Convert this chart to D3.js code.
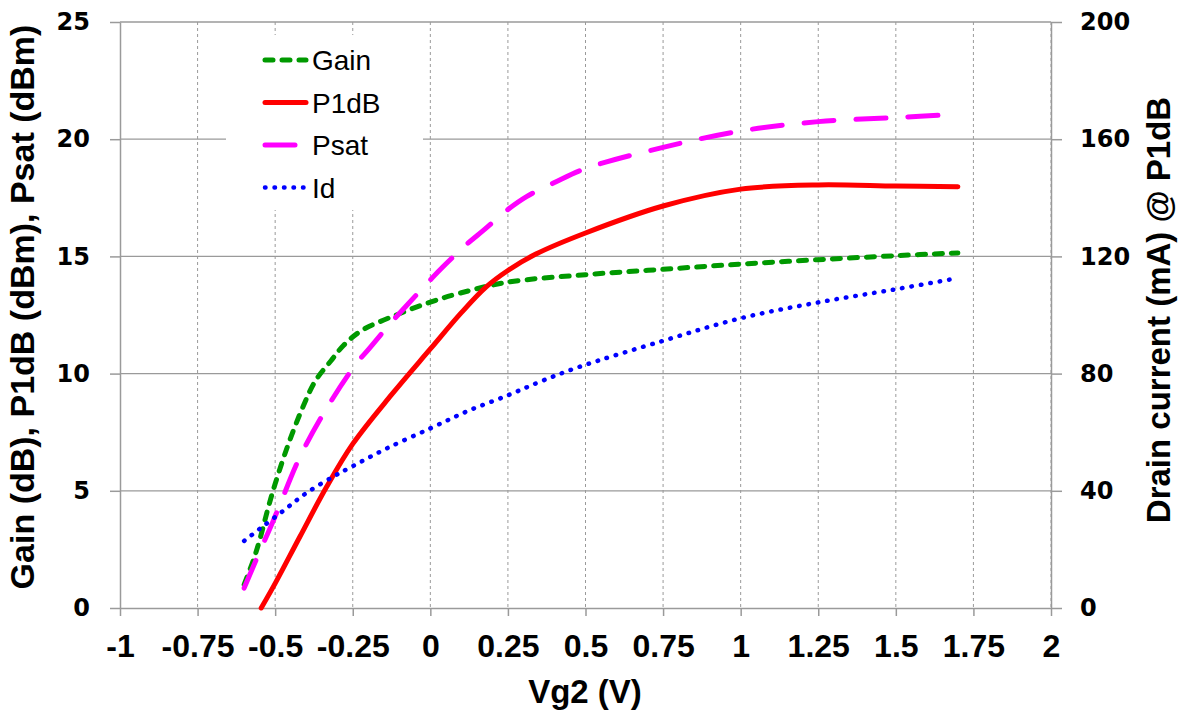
<!DOCTYPE html>
<html lang="en">
<head>
  <meta charset="UTF-8" />
  <title>Vg2 sweep</title>
  <script src="https://d3js.org/d3.v7.min.js"></script>
  <style>
    body { margin: 0; background: #fff; }
  </style>
</head>
<body>
  <svg id="chart" width="1184" height="711"></svg>

  <script>
    // Values
    const xTicks = [-1, -0.75, -0.5, -0.25, 0, 0.25, 0.5, 0.75, 1, 1.25, 1.5, 1.75, 2];
    const yTicks = [0, 5, 10, 15, 20, 25];
    const y2Ticks = [0, 40, 80, 120, 160, 200];

    const gainVg = [-0.6, -0.57, -0.55, -0.52, -0.5, -0.46, -0.41, -0.37, -0.32, -0.28, -0.22, -0.11, 0, 0.1, 0.25, 0.5, 0.75, 1.0, 1.25, 1.5, 1.7];
    const gainDb = [1.0, 2.05, 2.9, 4.4, 5.3, 6.9, 8.6, 9.7, 10.55, 11.2, 11.85, 12.5, 13.05, 13.45, 13.9, 14.22, 14.45, 14.67, 14.86, 15.03, 15.15];

    const p1dbVg = [-0.545, -0.5, -0.42, -0.335, -0.25, -0.125, 0, 0.1, 0.18, 0.25, 0.34, 0.5, 0.75, 1.0, 1.25, 1.5, 1.7];
    const p1dbDbm = [0, 1.05, 3.05, 5.15, 7.0, 9.1, 11.05, 12.6, 13.7, 14.4, 15.1, 16.0, 17.15, 17.87, 18.05, 18.0, 17.97];

    const psatVg = [-0.6, -0.555, -0.51, -0.485, -0.42, -0.335, -0.24, -0.195, -0.125, -0.08, 0, 0.04, 0.12, 0.17, 0.25, 0.31, 0.4, 0.5, 0.75, 1.0, 1.25, 1.5, 1.7];
    const psatDbm = [0.85, 2.25, 3.6, 4.4, 6.45, 8.5, 10.4, 11.1, 12.2, 12.85, 14.0, 14.55, 15.55, 16.1, 17.0, 17.55, 18.15, 18.75, 19.65, 20.35, 20.75, 20.92, 21.07];

    const idVg = [-0.6, -0.55, -0.47, -0.4, -0.31, -0.25, -0.14, 0, 0.12, 0.25, 0.36, 0.48, 0.75, 1.0, 1.25, 1.5, 1.7];
    const idMa = [22.9, 27.0, 33.5, 39.2, 45.0, 48.4, 54.5, 61.3, 67.2, 72.6, 77.5, 82.3, 91.2, 98.9, 104.3, 108.8, 112.6];

    const svg = d3.select("#chart");
    const margin = { top: 22, right: 133, bottom: 103, left: 120 };
    const width = +svg.attr("width");
    const height = +svg.attr("height");

    const x = d3.scaleLinear().domain([-1, 2]).range([margin.left, width - margin.right]);
    const y = d3.scaleLinear().domain([0, 25]).range([height - margin.bottom, margin.top]);
    const y2 = d3.scaleLinear().domain([0, 200]).range([height - margin.bottom, margin.top]);

    const gridColor = "#9a9a9a";

    // Vertical dashed grid
    svg.append("g")
      .selectAll("line")
      .data(xTicks.slice(1))
      .join("line")
      .attr("x1", d => x(d)).attr("x2", d => x(d))
      .attr("y1", y(25)).attr("y2", y(0))
      .attr("stroke", gridColor)
      .attr("stroke-width", 1)
      .attr("stroke-dasharray", "3,3");

    // Horizontal solid grid
    svg.append("g")
      .selectAll("line")
      .data(yTicks.slice(1))
      .join("line")
      .attr("x1", x(-1)).attr("x2", x(2))
      .attr("y1", d => y(d)).attr("y2", d => y(d))
      .attr("stroke", gridColor)
      .attr("stroke-width", 1.3);

    // Axes (plain hyphen for negatives, like the original)
    const xAxis = svg.append("g")
      .attr("transform", `translate(0, ${y(0)})`)
      .call(d3.axisBottom(x).tickValues(xTicks).tickSize(8).tickSizeOuter(0).tickPadding(18)
        .tickFormat(d => String(d)));
    xAxis.selectAll("text")
      .attr("font-family", "'Liberation Sans', Arial, sans-serif")
      .attr("font-weight", "bold")
      .attr("font-size", "32px")
      .attr("fill", "#000");

    const yAxis = svg.append("g")
      .attr("transform", `translate(${x(-1)}, 0)`)
      .call(d3.axisLeft(y).tickValues(yTicks).tickSize(10).tickSizeOuter(0).tickPadding(20));
    yAxis.selectAll("text")
      .attr("font-family", "'DejaVu Sans', sans-serif")
      .attr("font-weight", "bold")
      .attr("font-size", "24px")
      .attr("fill", "#000");

    const y2Axis = svg.append("g")
      .attr("transform", `translate(${x(2)}, 0)`)
      .call(d3.axisRight(y2).tickValues(y2Ticks).tickSize(11).tickSizeOuter(0).tickPadding(18));
    y2Axis.selectAll("text")
      .attr("font-family", "'DejaVu Sans', sans-serif")
      .attr("font-weight", "bold")
      .attr("font-size", "24px")
      .attr("fill", "#000");

    svg.selectAll(".domain, .tick line")
      .attr("stroke", gridColor)
      .attr("stroke-width", 1.5);

    // Axis titles
    svg.append("text")
      .attr("x", x(0.5) - 0.5)
      .attr("y", 703)
      .attr("text-anchor", "middle")
      .attr("font-family", "'Liberation Sans', Arial, sans-serif")
      .attr("font-weight", "bold")
      .attr("font-size", "33px")
      .text("Vg2 (V)");

    svg.append("text")
      .attr("transform", "translate(34, 307) rotate(-90)")
      .attr("text-anchor", "middle")
      .attr("font-family", "'Liberation Sans', Arial, sans-serif")
      .attr("font-weight", "bold")
      .attr("font-size", "34px")
      .text("Gain (dB), P1dB (dBm), Psat (dBm)");

    svg.append("text")
      .attr("transform", "translate(1170, 310) rotate(-90)")
      .attr("text-anchor", "middle")
      .attr("font-family", "'Liberation Sans', Arial, sans-serif")
      .attr("font-weight", "bold")
      .attr("font-size", "33px")
      .text("Drain current (mA) @ P1dB");

    // Series
    const series = [
      { name: "Gain", xs: gainVg, ys: gainDb, scale: y, color: "#009900", dash: "8,9", width: 5 },
      { name: "P1dB", xs: p1dbVg, ys: p1dbDbm, scale: y, color: "#ff0000", dash: null, width: 5 },
      { name: "Psat", xs: psatVg, ys: psatDbm, scale: y, color: "#ff00ff", dash: "30,22", width: 5 },
      { name: "Id", xs: idVg, ys: idMa, scale: y2, color: "#0000ff", dash: "0.5,9", width: 4.5 }
    ];

    // Legend background hides the grid behind it
    svg.append("rect")
      .attr("x", 226).attr("y", 35)
      .attr("width", 197).attr("height", 175)
      .attr("fill", "#fff");

    series.forEach(s => {
      const line = d3.line()
        .x(d => x(d[0]))
        .y(d => s.scale(d[1]))
        .curve(d3.curveCatmullRom.alpha(0.5));
      svg.append("path")
        .datum(d3.zip(s.xs, s.ys))
        .attr("fill", "none")
        .attr("stroke", s.color)
        .attr("stroke-width", s.width)
        .attr("stroke-linecap", "round")
        .attr("stroke-dasharray", s.dash)
        .attr("d", line);
    });

    // Legend
    const legend = svg.append("g");
    series.forEach((s, i) => {
      const ly = 60 + i * 42.5;
      legend.append("line")
        .attr("x1", 265).attr("x2", 306)
        .attr("y1", ly).attr("y2", ly)
        .attr("stroke", s.color)
        .attr("stroke-width", s.width)
        .attr("stroke-linecap", "round")
        .attr("stroke-dasharray", s.dash);
      legend.append("text")
        .attr("x", 312)
        .attr("y", ly + 10)
        .attr("font-family", "'Liberation Sans', Arial, sans-serif")
        .attr("font-size", "28px")
        .text(s.name);
    });
  </script>
</body>
</html>
